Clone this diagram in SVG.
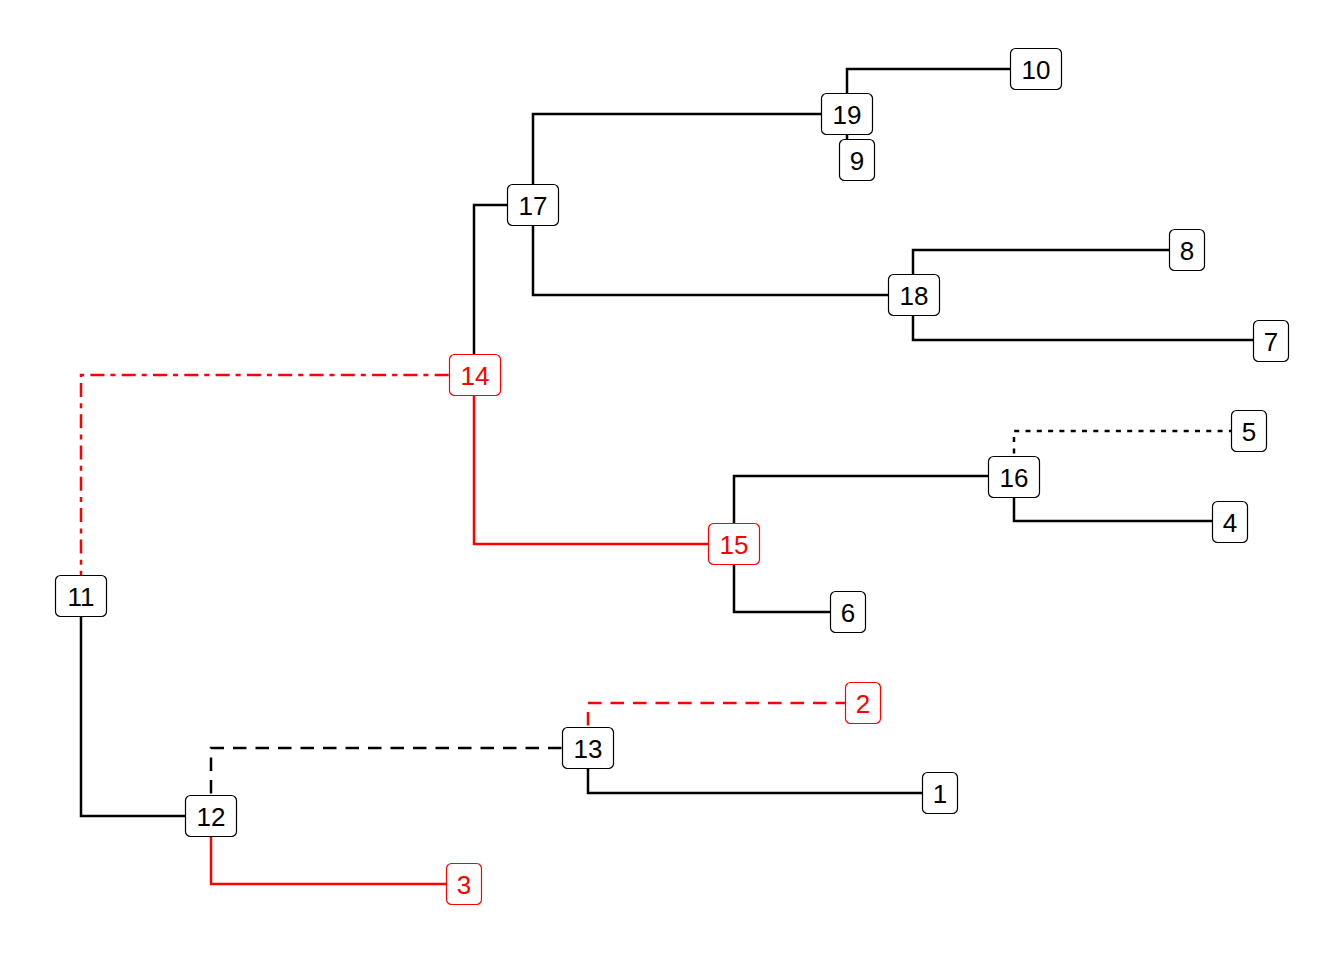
<svg xmlns="http://www.w3.org/2000/svg" width="1344" height="960" viewBox="0 0 1344 960">
<style>
.e{fill:none;stroke-width:2.5;stroke:#000}
.r{stroke:#f00}
.dash{stroke-dasharray:13.5 9}
.dot{stroke-dasharray:5 6.3}
.dd{stroke-dasharray:5 6.3 14 6}
.n rect{fill:#fff;stroke:#000;stroke-width:1.2}
.n text{font-family:"Liberation Sans",Arial,Helvetica,sans-serif;font-size:26px;text-anchor:middle;fill:#000}
.n.red rect{stroke:#f00}
.n.red text{fill:#f00}
</style>
<rect width="1344" height="960" fill="#fff"/>
<g id="connectors">
<path class="e" d="M533,205V114H847"/>
<path class="e" d="M847,114V69H1036"/>
<path class="e" d="M847,114V159H856"/>
<path class="e" d="M474,375V205H533"/>
<path class="e" d="M533,205V295H913"/>
<path class="e" d="M913,295V250H1186"/>
<path class="e" d="M913,295V340H1270"/>
<path class="e r dd" d="M81,596V375H474"/>
<path class="e r" d="M474,375V544H734"/>
<path class="e" d="M734,544V476H1014"/>
<path class="e dot" d="M1014,476V431H1248"/>
<path class="e" d="M1014,476V521H1229"/>
<path class="e" d="M734,544V612H848"/>
<path class="e" d="M81,596V816H211"/>
<path class="e dash" d="M211,816V748H588"/>
<path class="e r" d="M211,816V884H464"/>
<path class="e r dash" d="M588,748V703H862"/>
<path class="e" d="M588,748V793H940"/>
</g>
<g id="n10" class="n"><rect x="1010.5" y="48.5" width="51" height="41" rx="5"/><text x="1036" y="78.5">10</text></g>
<g id="n19" class="n"><rect x="821.5" y="93.5" width="51" height="41" rx="5"/><text x="847" y="123.5">19</text></g>
<g id="n9" class="n"><rect x="839.5" y="139.5" width="35" height="41" rx="5"/><text x="857" y="169.5">9</text></g>
<g id="n17" class="n"><rect x="507.5" y="184.5" width="51" height="41" rx="5"/><text x="533" y="214.5">17</text></g>
<g id="n8" class="n"><rect x="1169.5" y="229.5" width="35" height="41" rx="5"/><text x="1187" y="259.5">8</text></g>
<g id="n18" class="n"><rect x="888.5" y="274.5" width="51" height="41" rx="5"/><text x="914" y="304.5">18</text></g>
<g id="n7" class="n"><rect x="1253.5" y="320.5" width="35" height="41" rx="5"/><text x="1271" y="350.5">7</text></g>
<g id="n14" class="n red"><rect x="449.5" y="354.5" width="51" height="41" rx="5"/><text x="475" y="384.5">14</text></g>
<g id="n5" class="n"><rect x="1231.5" y="410.5" width="35" height="41" rx="5"/><text x="1249" y="440.5">5</text></g>
<g id="n16" class="n"><rect x="988.5" y="456.5" width="51" height="41" rx="5"/><text x="1014" y="486.5">16</text></g>
<g id="n4" class="n"><rect x="1212.5" y="501.5" width="35" height="41" rx="5"/><text x="1230" y="531.5">4</text></g>
<g id="n15" class="n red"><rect x="708.5" y="523.5" width="51" height="41" rx="5"/><text x="734" y="553.5">15</text></g>
<g id="n11" class="n"><rect x="55.5" y="575.5" width="51" height="41" rx="5"/><text x="81" y="605.5">11</text></g>
<g id="n6" class="n"><rect x="830.5" y="591.5" width="35" height="41" rx="5"/><text x="848" y="621.5">6</text></g>
<g id="n2" class="n red"><rect x="845.5" y="682.5" width="35" height="41" rx="5"/><text x="863" y="712.5">2</text></g>
<g id="n13" class="n"><rect x="562.5" y="727.5" width="51" height="41" rx="5"/><text x="588" y="757.5">13</text></g>
<g id="n1" class="n"><rect x="922.5" y="772.5" width="35" height="41" rx="5"/><text x="940" y="802.5">1</text></g>
<g id="n12" class="n"><rect x="185.5" y="795.5" width="51" height="41" rx="5"/><text x="211" y="825.5">12</text></g>
<g id="n3" class="n red"><rect x="446.5" y="863.5" width="35" height="41" rx="5"/><text x="464" y="893.5">3</text></g>
</svg>
